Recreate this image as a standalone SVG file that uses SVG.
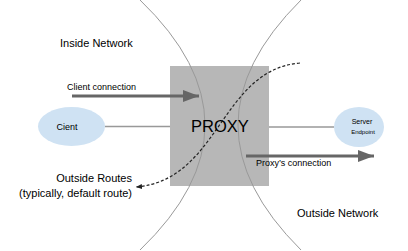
<svg xmlns="http://www.w3.org/2000/svg" width="408" height="251" viewBox="0 0 408 251">
<style>
text{font-family:"Liberation Sans",Arial,sans-serif;fill:#000}
.bound{fill:none;stroke:#999;stroke-width:1}
.link{stroke:#999;stroke-width:1.5;fill:none}
.thick{stroke:#666;stroke-width:3;fill:none}
.dash{stroke:#222;stroke-width:1.2;fill:none;stroke-dasharray:3 2}
.ell{fill:#cfe2f3}
</style>
<defs>
<marker id="big" viewBox="0 0 16 12" refX="16" refY="6" markerWidth="16" markerHeight="12" markerUnits="userSpaceOnUse" orient="auto">
<path d="M0,0 L16,6 L0,12 Z" fill="#666"/>
</marker>
<marker id="small" viewBox="0 0 6 5" refX="6" refY="2.5" markerWidth="6" markerHeight="5" markerUnits="userSpaceOnUse" orient="auto">
<path d="M0,0 L6,2.5 L0,5 Z" fill="#222"/>
</marker>
</defs>
<rect width="408" height="251" fill="#fff"/>
<g id="proxy">
<rect x="170" y="66" width="99" height="120" fill="#b7b7b7"/>
</g>
<g id="boundaries">
<path class="bound" d="M140,0 Q270,125 140,250"/>
<path class="bound" d="M301,0 Q175,125 301,250"/>
</g>
<g id="connectors">
<line class="link" x1="105" y1="126.5" x2="170" y2="126.5"/>
<line class="link" x1="269" y1="127" x2="334" y2="127"/>
<line class="thick" x1="72" y1="96" x2="199" y2="96" marker-end="url(#big)"/>
<line class="thick" x1="246" y1="156" x2="374" y2="156" marker-end="url(#big)"/>
<path class="dash" d="M300,63 C220,70 220,180 136,187" marker-end="url(#small)"/>
</g>
<g id="proxy-label">
<text x="220" y="132" font-size="16.5" text-anchor="middle">PROXY</text>
</g>
<g id="client">
<ellipse class="ell" cx="71.5" cy="126.5" rx="33.5" ry="19.5"/>
<text x="67" y="130" font-size="9" text-anchor="middle">Cient</text>
</g>
<g id="server">
<ellipse class="ell" cx="359" cy="127" rx="25" ry="20"/>
<text x="362" y="124" font-size="7" text-anchor="middle">Server</text>
<text x="363" y="134" font-size="6" text-anchor="middle">Endpoint</text>
</g>
<g id="labels">
<text x="60" y="47" font-size="11">Inside Network</text>
<text x="67" y="90" font-size="9">Client connection</text>
<text x="256" y="166" font-size="9">Proxy’s connection</text>
<text x="297" y="217" font-size="11">Outside Network</text>
<text x="132" y="182" font-size="11" text-anchor="end">Outside Routes</text>
<text x="132" y="197" font-size="11" text-anchor="end">(typically, default route)</text>
</g>
</svg>
